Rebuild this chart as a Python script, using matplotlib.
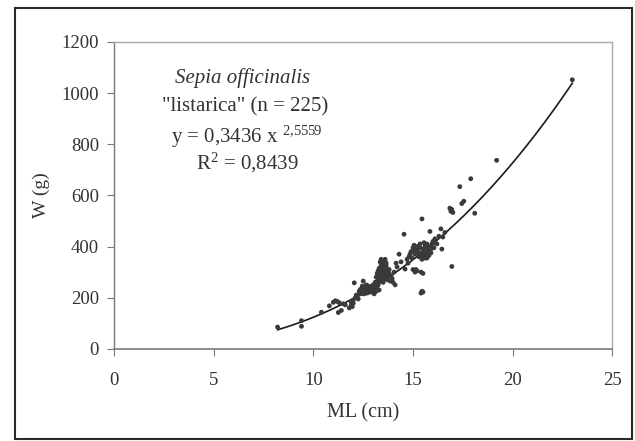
#!/usr/bin/env python3
"""Length-weight scatter for Sepia officinalis ("listarica"), with power fit."""

import matplotlib

matplotlib.use("Agg")
import matplotlib.pyplot as plt
import numpy as np
from matplotlib.patches import Rectangle

# mantle length (cm) and weight (g)
ml_low = [8.2, 9.4, 9.4, 10.4, 10.8, 11.0, 11.1, 11.2, 11.3, 11.25, 11.4, 11.5,
          11.6, 11.8, 11.9, 11.9, 11.95, 12.0, 12.0, 12.05, 12.1]
w_low = [85, 110, 88, 143, 168, 182, 188, 185, 180, 142, 150, 176,
         172, 160, 170, 182, 165, 178, 190, 258, 200]

ml_mid1 = [12.15, 12.2, 12.25, 12.3, 12.35, 12.4, 12.45, 12.5, 12.5, 12.55, 12.6,
           12.65, 12.7, 12.7, 12.75, 12.8, 12.85, 12.9, 12.9, 12.95, 13.0, 13.0,
           12.3, 12.45, 12.6, 12.75, 12.85, 13.0, 12.55, 12.65]
w_mid1 = [210, 205, 195, 225, 232, 215, 245, 228, 265, 238, 222,
          230, 218, 248, 226, 240, 232, 225, 245, 236, 220, 250,
          215, 222, 240, 235, 222, 230, 215, 250]

ml_mid2 = [13.05, 13.1, 13.1, 13.15, 13.15, 13.2, 13.2, 13.25, 13.25, 13.3, 13.3,
           13.3, 13.35, 13.35, 13.4, 13.4, 13.4, 13.45, 13.45, 13.5, 13.5, 13.5,
           13.55, 13.55, 13.6, 13.6, 13.6, 13.65, 13.65, 13.7, 13.7, 13.75, 13.75,
           13.8, 13.85, 13.9, 13.95, 14.0, 14.05, 14.1, 14.15, 14.2,
           13.2, 13.25, 13.3, 13.35, 13.4, 13.45, 13.5, 13.55, 13.6, 13.65, 13.7,
           13.3, 13.4, 13.5, 13.6, 13.7, 13.8, 13.25, 13.45, 13.55]
w_mid2 = [215, 240, 260, 225, 280, 245, 295, 270, 305, 285, 315,
          230, 300, 340, 350, 320, 275, 290, 335, 345, 310, 260,
          330, 295, 340, 280, 315, 300, 325, 270, 290, 310, 285,
          295, 265, 285, 275, 260, 300, 250, 335, 320,
          230, 250, 262, 280, 300, 305, 325, 318, 295, 335, 305,
          295, 330, 345, 350, 280, 310, 290, 268, 275]

ml_mid3 = [14.3, 14.4, 14.55, 14.6, 14.7, 14.75, 14.8, 14.85, 14.9, 14.95, 15.0,
           15.0, 15.05, 15.1, 15.1, 15.15, 15.2, 15.2, 15.25]
w_mid3 = [370, 340, 448, 312, 350, 335, 360, 370, 380, 355, 395,
          310, 405, 300, 385, 310, 400, 305, 390]

ml_mid4 = [15.3, 15.35, 15.4, 15.4, 15.4, 15.45, 15.45, 15.45, 15.5, 15.5, 15.5,
           15.55, 15.55, 15.6, 15.6, 15.65, 15.7, 15.7, 15.75, 15.8, 15.8, 15.85,
           15.9, 15.9, 15.95, 16.0, 16.05, 16.1, 16.1, 16.2,
           15.0, 15.05, 15.1, 15.2, 15.3, 15.35, 15.45, 15.55, 15.6, 15.65, 15.7,
           15.75, 15.8, 15.85, 15.9]
w_mid4 = [375, 410, 218, 300, 365, 225, 508, 350, 390, 295, 222,
          360, 415, 370, 400, 380, 355, 410, 385, 365, 395, 459,
          375, 400, 410, 420, 395, 415, 430, 410,
          380, 395, 370, 385, 360, 395, 375, 385, 355, 400, 370,
          400, 380, 395, 390]

ml_high = [16.3, 16.4, 16.45, 16.5, 16.6, 16.85, 16.9, 16.95, 17.0, 16.95, 17.35,
           17.45, 17.55, 17.9, 18.1, 19.2, 23.0]
w_high = [440, 469, 390, 437, 455, 550, 538, 545, 533, 322, 634,
          568, 577, 665, 530, 737, 1052]

# power fit printed on the chart
fit_a = 0.3436
fit_b = 2.5559
fit_range = (8.2, 23.0)

x_ticks = [0, 5, 10, 15, 20, 25]
y_ticks = [0, 200, 400, 600, 800, 1000, 1200]

plt.rcParams["font.family"] = ["Liberation Serif", "DejaVu Serif"]
plt.rcParams["mathtext.fontset"] = "custom"
plt.rcParams["mathtext.rm"] = "Liberation Serif"
plt.rcParams["mathtext.it"] = "Liberation Serif:italic"

ml = np.array(ml_low + ml_mid1 + ml_mid2 + ml_mid3 + ml_mid4 + ml_high)
w = np.array(w_low + w_mid1 + w_mid2 + w_mid3 + w_mid4 + w_high)

fig = plt.figure(figsize=(6.35, 4.41), dpi=100)
ax = fig.add_axes([0.180, 0.209, 0.784, 0.696])

ax.scatter(ml, w, s=12, color="#3a3a3a", edgecolors="none", zorder=3)

xs = np.linspace(fit_range[0], fit_range[1], 200)
ax.plot(xs, fit_a * xs ** fit_b, color="#1a1a1a", linewidth=1.2, zorder=2)

ax.set_xlim(0, 25)
ax.set_ylim(0, 1200)
ax.set_xticks(x_ticks)
ax.set_yticks(y_ticks)

text_color = "#333333"
ax.tick_params(axis="both", direction="out", length=5, width=0.8,
               color="#7a7a7a", labelsize=13.5, labelcolor=text_color)
ax.tick_params(axis="x", pad=12)
ax.tick_params(axis="y", pad=6)

ax.spines["left"].set_color("#7a7a7a")
ax.spines["left"].set_linewidth(1.0)
ax.spines["bottom"].set_color("#7a7a7a")
ax.spines["bottom"].set_linewidth(1.2)
ax.spines["bottom"].set_linestyle((0, (1, 1)))
for side in ("top", "right"):
    ax.spines[side].set_color("#a8a8a8")
    ax.spines[side].set_linewidth(1.0)
    ax.spines[side].set_linestyle((0, (1, 1)))

ax.set_xlabel("ML (cm)", fontsize=14.5, color=text_color, labelpad=10)
ax.set_ylabel("W (g)", fontsize=14, color=text_color, labelpad=8)

ann_size = 15
ax.text(6.45, 1059, "Sepia officinalis", style="italic", fontsize=ann_size,
        color=text_color, ha="center", va="center")
ax.text(6.55, 946, '"listarica" (n = 225)', fontsize=ann_size,
        color=text_color, ha="center", va="center")
ax.text(6.65, 829, r"y = 0,3436 x $^{2{,}5559}$", fontsize=ann_size,
        color=text_color, ha="center", va="center")
ax.text(6.69, 727, r"R$^{2}$ = 0,8439", fontsize=ann_size,
        color=text_color, ha="center", va="center")

frame = Rectangle((0.024, 0.005), 0.972, 0.977, transform=fig.transFigure,
                  fill=False, edgecolor="#2a2a2a", linewidth=1.5)
fig.patches.append(frame)

fig.savefig("out.png", dpi=100)
